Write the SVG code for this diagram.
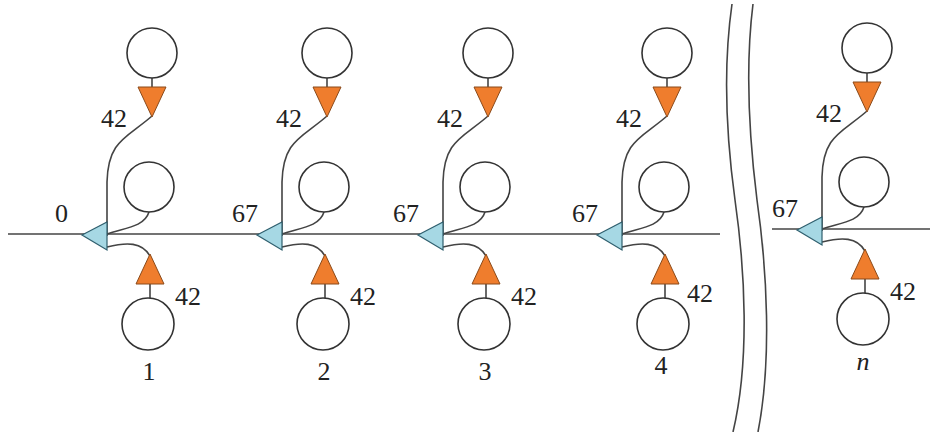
<svg xmlns="http://www.w3.org/2000/svg" width="946" height="432" viewBox="0 0 946 432">
<style>
.c{fill:#fff;stroke:#333;stroke-width:1.6}
.o{fill:#ef7d2d;stroke:#8a4a1a;stroke-width:1}
.b{fill:#a6d8e4;stroke:#2f5f6e;stroke-width:1.2}
.w{fill:none;stroke:#444;stroke-width:1.6}
text{font-family:'Times New Roman','Liberation Serif',Tinos,'DejaVu Serif','Noto Serif',serif;font-size:26px;fill:#222}
.m{text-anchor:middle}
</style>
<defs>
<g id="unit">
<circle class="c" cx="70" cy="53" r="25"/>
<polygon class="o" points="56,87 84,87 70,117"/>
<circle class="c" cx="67" cy="187" r="25"/>
<polygon class="b" points="0,235 25,222 25,250"/>
<polygon class="o" points="68,254 54,284 82,284"/>
<circle class="c" cx="66" cy="324" r="26"/>
</g>
<g id="wires">
<path class="w" d="M70,78 L70,88"/>
<path class="w" d="M70,116 C45,138 26,140 25,182 L25,236"/>
<path class="w" d="M67,212 C62,228 40,228 25,234"/>
<path class="w" d="M25,247 C45,242 60,242 68,256"/>
<path class="w" d="M68,283 L68,298"/>
</g>
</defs>
<rect width="946" height="432" fill="#fff"/>
<g id="connectors">
<path class="w" d="M8,234 L720,234"/>
<path class="w" d="M772,229 L930,229"/>
<use href="#wires" transform="translate(82,0)"/>
<use href="#wires" transform="translate(257,0)"/>
<use href="#wires" transform="translate(418,0)"/>
<use href="#wires" transform="translate(597,0)"/>
<use href="#wires" transform="translate(797,-5)"/>
<path class="w" d="M732,4 C724,60 724,120 735,200 C745,270 750,360 733,432"/>
<path class="w" d="M753,4 C746,60 747,120 757,200 C767,270 772,360 758,432"/>
</g>
<g id="node1" transform="translate(82,0)">
<use href="#unit"/>
<text x="-27" y="222">0</text>
<text x="19" y="127">42</text>
<text x="93" y="305">42</text>
<text class="m" x="67" y="380">1</text>
</g>
<g id="node2" transform="translate(257,0)">
<use href="#unit"/>
<text x="-25" y="222">67</text>
<text x="19" y="127">42</text>
<text x="93" y="305">42</text>
<text class="m" x="67" y="380">2</text>
</g>
<g id="node3" transform="translate(418,0)">
<use href="#unit"/>
<text x="-25" y="222">67</text>
<text x="19" y="127">42</text>
<text x="93" y="305">42</text>
<text class="m" x="67" y="380">3</text>
</g>
<g id="node4" transform="translate(597,0)">
<use href="#unit"/>
<text x="-25" y="222">67</text>
<text x="19" y="127">42</text>
<text x="90" y="302">42</text>
<text class="m" x="64" y="374">4</text>
</g>
<g id="noden" transform="translate(797,-5)">
<use href="#unit"/>
<text x="-25" y="222">67</text>
<text x="19" y="127">42</text>
<text x="93" y="305">42</text>
<text class="m" x="66" y="375" font-style="italic">n</text>
</g>
</svg>
